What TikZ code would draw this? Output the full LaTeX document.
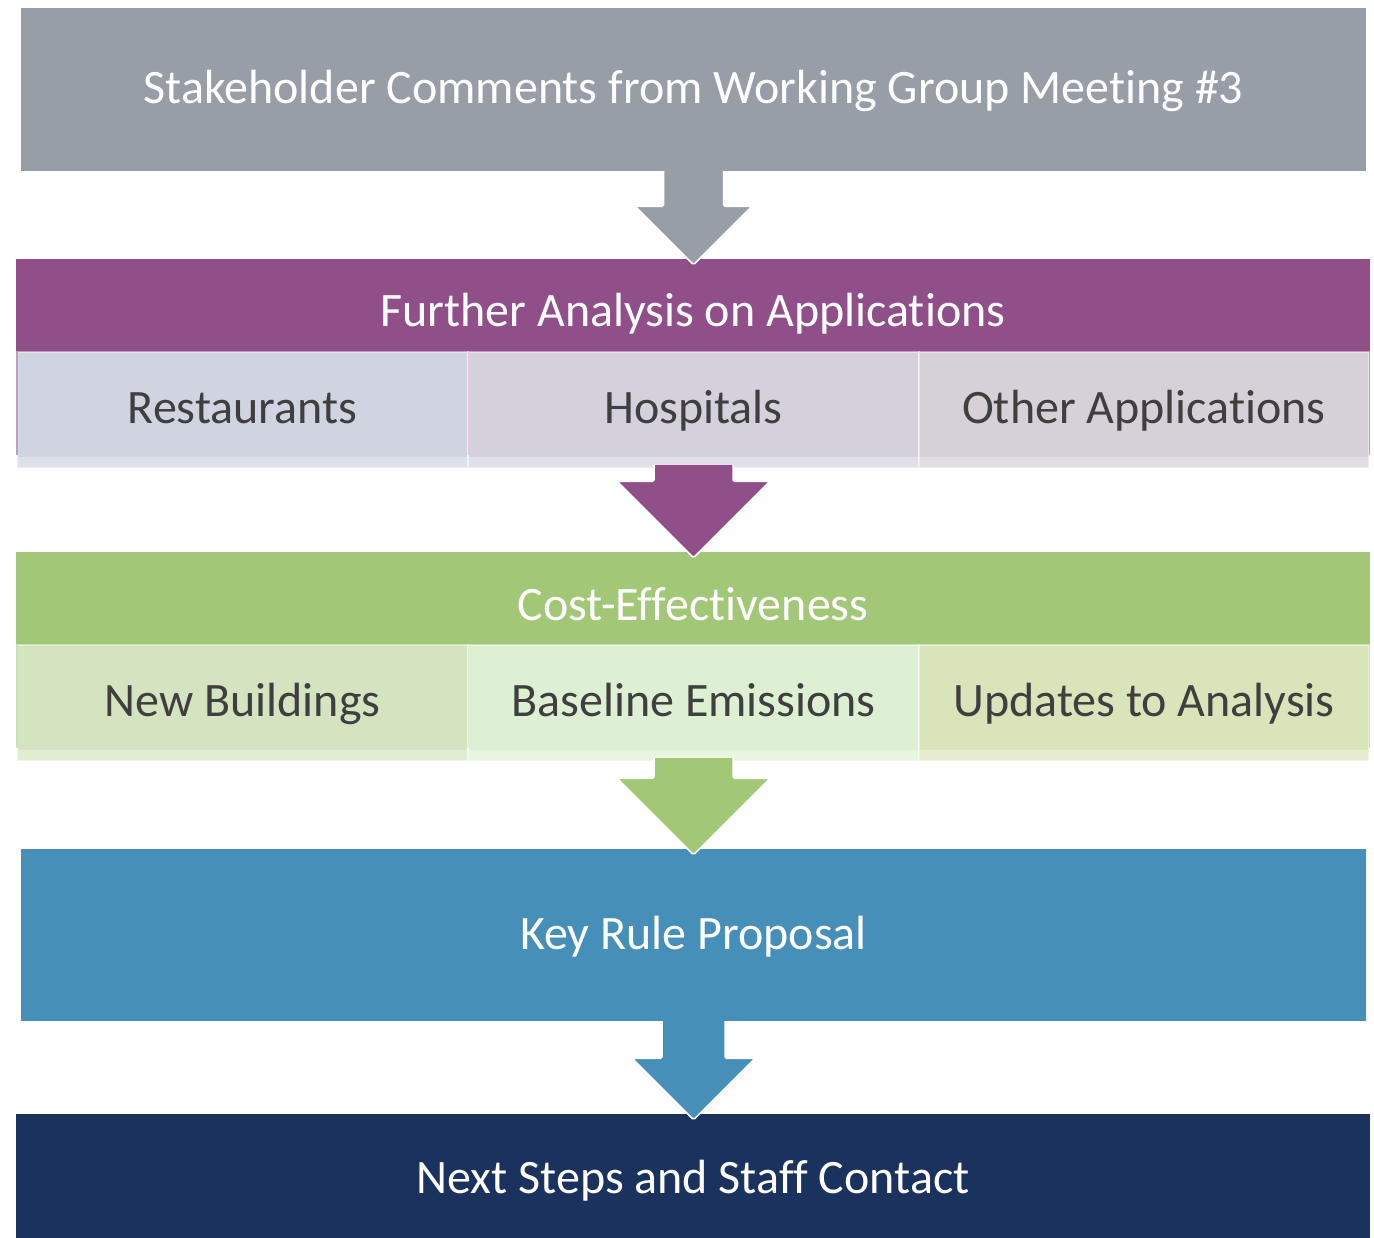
\documentclass[tikz,border=0pt]{standalone}
\usepackage{fontspec}
\setmainfont[RawFeature={-liga;-clig;-calt;-dlig}]{Carlito}
\usetikzlibrary{calc}
\definecolor{stakegray}{HTML}{979EA8}
\definecolor{furtherpurple}{HTML}{914F8A}
\definecolor{costgreen}{HTML}{A2C777}
\definecolor{keyblue}{HTML}{468FB9}
\definecolor{nextnavy}{HTML}{1B325E}
\definecolor{restfill}{HTML}{CFD4E0}
\definecolor{hospfill}{HTML}{D4D1DC}
\definecolor{otherfill}{HTML}{D6D1D9}
\definecolor{newbfill}{HTML}{D5E4C0}
\definecolor{basefill}{HTML}{DDF0D4}
\definecolor{updfill}{HTML}{DAE4BA}
\definecolor{subtext}{HTML}{3F3F3F}
\tikzset{
  band/.style={rectangle,inner sep=0pt,text=white,font=\fontsize{48}{58}\selectfont,text height=34pt,text depth=6pt},
  headband/.style={band,minimum width=1354pt,minimum height=91pt,text height=45pt,text depth=0pt},
  subbox/.style={rectangle,inner sep=0pt,minimum width=450pt,minimum height=105pt,text=subtext,font=\fontsize{48}{58}\selectfont,text height=40pt,text depth=2pt}
}

\begin{document}
\begin{tikzpicture}[x=1pt,y=-1pt]
    \useasboundingbox (0,0) rectangle (1374,1238);

    \node[band,fill=stakegray,minimum width=1345pt,minimum height=163pt] (stake) at (693.5,89.5) {Stakeholder Comments from Working Group Meeting \#3};

    % applications
    \node[headband,fill=furtherpurple] (further) at (693,304.5) {Further Analysis on Applications};
    \fill[furtherpurple] (further.south west) rectangle ($(further.south east)+(0,105)$);
    \foreach \n/\x/\c/\t in {rest/242.5/restfill/Restaurants,hosp/693.5/hospfill/Hospitals,other/1144/otherfill/Other Applications}{
        \node[subbox,fill=\c] (\n) at (\x,404.5) {\t};
        \fill[\c!70!white] (\n.south west) rectangle ($(\n.south east)+(0,11)$);
        \draw[white,draw opacity=0.45,line width=2pt] (\n.north west) rectangle ($(\n.south east)+(0,11)$);
    }

    % cost-effectiveness
    \node[headband,fill=costgreen] (cost) at (693,597.5) {Cost-Effectiveness};
    \fill[costgreen] (cost.south west) rectangle ($(cost.south east)+(0,105)$);
    \foreach \n/\x/\c/\t in {newb/242.5/newbfill/New Buildings,base/693.5/basefill/Baseline Emissions,upd/1144/updfill/Updates to Analysis}{
        \node[subbox,fill=\c] (\n) at (\x,697.5) {\t};
        \fill[\c!70!white] (\n.south west) rectangle ($(\n.south east)+(0,11)$);
        \draw[white,draw opacity=0.45,line width=2pt] (\n.north west) rectangle ($(\n.south east)+(0,11)$);
    }

    \node[band,fill=keyblue,minimum width=1345pt,minimum height=172pt] (key) at (693.5,935) {Key Rule Proposal};
    \node[band,fill=nextnavy,minimum width=1354pt,minimum height=124pt,text depth=0pt] (next) at (693,1176) {Next Steps and Staff Contact};

    % block arrows
    \foreach \a/\b/\c/\s/\h/\o in {stake/further/stakegray/30pt/58.5pt/0pt,hosp/cost/furtherpurple/39.5pt/76.5pt/8pt,base/key/costgreen/39.5pt/76.5pt/8pt,key/next/keyblue/31.5pt/61.5pt/0pt}{
        \filldraw[fill=\c,draw=white,line width=1.5pt,rounded corners=1.5pt]
            let \p1=($(\a.south)-(0,\o)$), \p2=($(\b.north)-(0,6pt)$) in
            (\x1-\s,\y1) -- (\x1-\s,\y2+\h) -- (\x1-\h,\y2+\h) -- (\x1,\y2)
            -- (\x1+\h,\y2+\h) -- (\x1+\s,\y2+\h) -- (\x1+\s,\y1);
    }
\end{tikzpicture}
\end{document}
